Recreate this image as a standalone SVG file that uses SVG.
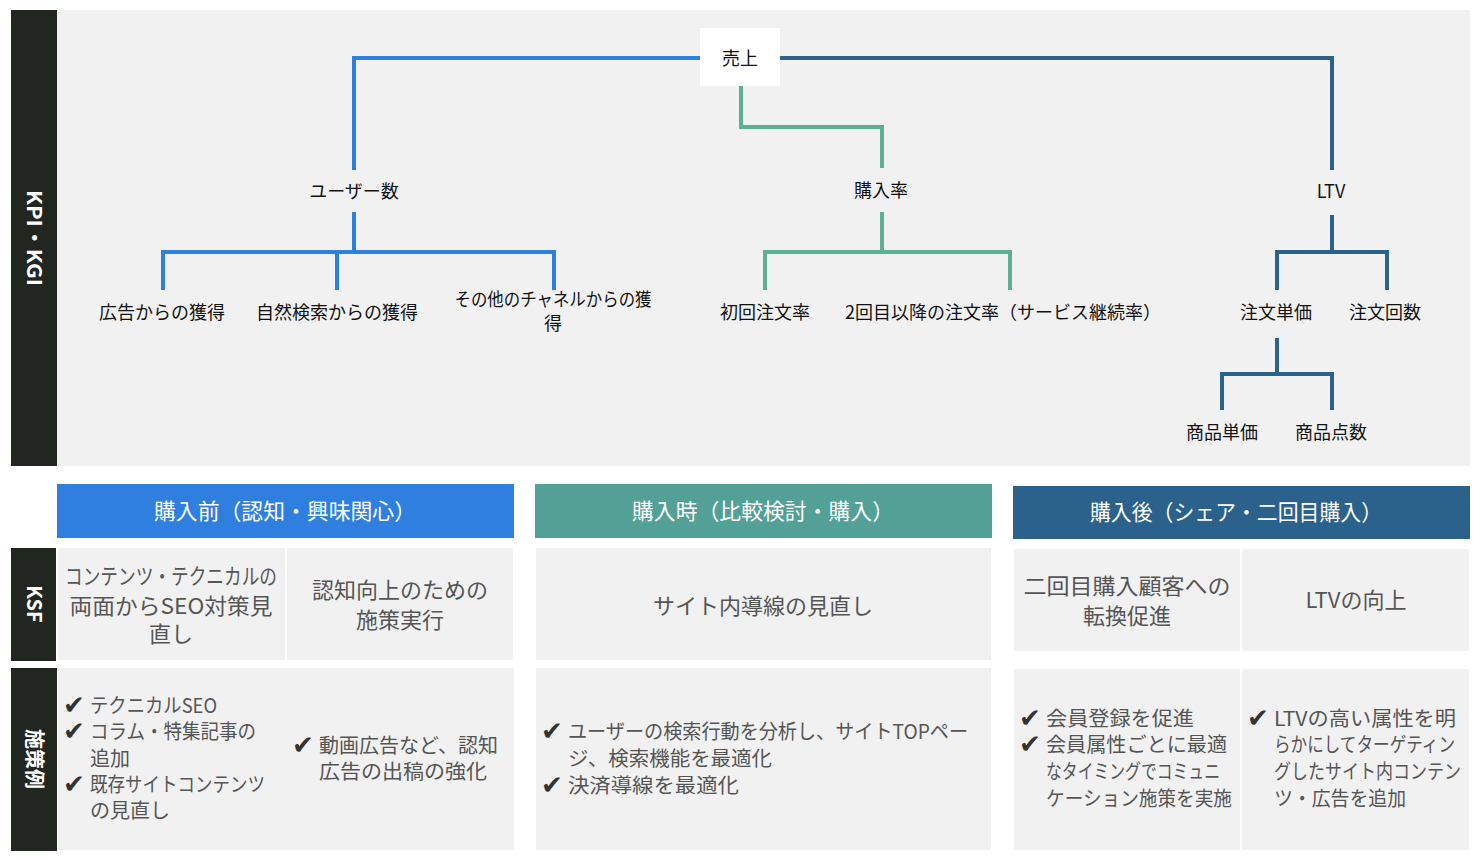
<svg xmlns="http://www.w3.org/2000/svg" width="1480" height="860" viewBox="0 0 1480 860">
<style>
text{font-family:"Noto Sans CJK JP","Noto Sans",sans-serif}
.t{font-size:18px;fill:#111;text-anchor:middle}
.side{font-size:20px;fill:#fff;text-anchor:middle;font-weight:bold}
.hd{font-size:22px;fill:#fff;text-anchor:middle}
.cell{fill:#f1f1f1}
.k{font-size:22px;fill:#555;text-anchor:middle}
.s{font-size:20px;fill:#555}
.ck{font-size:26px;fill:#333;font-family:"DejaVu Sans",sans-serif}
.b{stroke:#2F7FDE;stroke-width:4;fill:none}
.g{stroke:#5BB096;stroke-width:4;fill:none}
.d{stroke:#2B628C;stroke-width:4;fill:none}
</style>
<rect width="1480" height="860" fill="#fff"/>
<g id="kpi-panel">
<rect x="57" y="10" width="1413" height="456" fill="#f1f1f1"/>
<rect x="11" y="10" width="46" height="456" fill="#212621"/>
<text class="side" transform="translate(27,238) rotate(90)" textLength="96" lengthAdjust="spacingAndGlyphs">KPI・KGI</text>
</g>
<g id="connectors">
<path class="b" d="M700,58H354V170"/>
<path class="d" d="M780,58H1332V170"/>
<path class="g" d="M741,86V127H882V168"/>
<path class="b" d="M354,212V252M163,290V252H554V290M337,252V290"/>
<path class="g" d="M882,212V250M765,290V252H1010V290"/>
<path class="d" d="M1332,215V252M1277,290V252H1387V290"/>
<path class="d" d="M1277,338V374M1222,410V374H1332V410"/>
</g>
<g id="n-uriage"><rect x="700" y="28" width="80" height="58" fill="#fff"/><text class="t" x="740" y="65" font-size="21">売上</text></g>
<g id="n-users"><text class="t" x="354" y="198">ユーザー数</text></g>
<g id="n-cvr"><text class="t" x="881" y="197">購入率</text></g>
<g id="n-ltv"><text class="t" x="1331" y="198">LTV</text></g>
<g id="n-ad"><text class="t" x="162" y="319">広告からの獲得</text></g>
<g id="n-organic"><text class="t" x="337" y="319">自然検索からの獲得</text></g>
<g id="n-other"><text class="t" x="553" y="306" textLength="197" lengthAdjust="spacingAndGlyphs">その他のチャネルからの獲</text><text class="t" x="553" y="330">得</text></g>
<g id="n-first"><text class="t" x="765" y="319">初回注文率</text></g>
<g id="n-repeat"><text class="t" x="1003" y="319">2回目以降の注文率（サービス継続率）</text></g>
<g id="n-aov"><text class="t" x="1276" y="319">注文単価</text></g>
<g id="n-freq"><text class="t" x="1385" y="319">注文回数</text></g>
<g id="n-price"><text class="t" x="1222" y="439">商品単価</text></g>
<g id="n-qty"><text class="t" x="1331" y="439">商品点数</text></g>
<g id="headers">
<rect x="57" y="484" width="457" height="54" fill="#2F7FDE"/><text class="hd" x="285" y="519" textLength="262" lengthAdjust="spacingAndGlyphs">購入前（認知・興味関心）</text>
<rect x="535" y="484" width="457" height="54" fill="#52A096"/><text class="hd" x="763" y="519" textLength="262" lengthAdjust="spacingAndGlyphs">購入時（比較検討・購入）</text>
<rect x="1013" y="486" width="457" height="53" fill="#2B628C"/><text class="hd" x="1236" y="520" textLength="292" lengthAdjust="spacingAndGlyphs">購入後（シェア・二回目購入）</text>
</g>
<g id="ksf">
<rect x="11" y="548" width="45" height="113" fill="#212621"/>
<text class="side" transform="translate(27,604) rotate(90)">KSF</text>
<rect class="cell" x="58" y="548" width="227" height="112"/>
<rect class="cell" x="287" y="548" width="226" height="112"/>
<rect class="cell" x="536" y="548" width="455" height="112"/>
<rect class="cell" x="1014" y="549" width="226" height="102"/>
<rect class="cell" x="1242" y="549" width="227" height="102"/>
<text class="k" x="171" y="584" textLength="212" lengthAdjust="spacingAndGlyphs">コンテンツ・テクニカルの</text>
<text class="k" x="171" y="614" textLength="203" lengthAdjust="spacingAndGlyphs">両面からSEO対策見</text>
<text class="k" x="171" y="642">直し</text>
<text class="k" x="400" y="598">認知向上のための</text>
<text class="k" x="400" y="628">施策実行</text>
<text class="k" x="763" y="614">サイト内導線の見直し</text>
<text class="k" x="1127" y="594" textLength="207" lengthAdjust="spacingAndGlyphs">二回目購入顧客への</text>
<text class="k" x="1127" y="624">転換促進</text>
<text class="k" x="1356" y="608">LTVの向上</text>
</g>
<g id="examples">
<rect x="11" y="668" width="46" height="183" fill="#212621"/>
<text class="side" transform="translate(27,759) rotate(90)">施策例</text>
<rect class="cell" x="58" y="668" width="456" height="182"/>
<rect class="cell" x="536" y="668" width="455" height="182"/>
<rect class="cell" x="1014" y="669" width="226" height="181"/>
<rect class="cell" x="1242" y="669" width="227" height="181"/>
<text class="ck" x="63" y="714">✔</text><text class="s" x="90" y="713" textLength="127" lengthAdjust="spacingAndGlyphs">テクニカルSEO</text>
<text class="ck" x="63" y="740">✔</text><text class="s" x="90" y="739" textLength="166" lengthAdjust="spacingAndGlyphs">コラム・特集記事の</text>
<text class="s" x="90" y="766">追加</text>
<text class="ck" x="63" y="793">✔</text><text class="s" x="90" y="792" textLength="175" lengthAdjust="spacingAndGlyphs">既存サイトコンテンツ</text>
<text class="s" x="90" y="818">の見直し</text>
<text class="ck" x="292" y="754">✔</text><text class="s" x="319" y="753" textLength="179" lengthAdjust="spacingAndGlyphs">動画広告など、認知</text>
<text class="s" x="319" y="779" textLength="168" lengthAdjust="spacingAndGlyphs">広告の出稿の強化</text>
<text class="ck" x="541" y="740">✔</text><text class="s" x="568" y="739" textLength="400" lengthAdjust="spacingAndGlyphs">ユーザーの検索行動を分析し、サイトTOPペー</text>
<text class="s" x="568" y="766" textLength="204" lengthAdjust="spacingAndGlyphs">ジ、検索機能を最適化</text>
<text class="ck" x="541" y="794">✔</text><text class="s" x="568" y="793" textLength="171" lengthAdjust="spacingAndGlyphs">決済導線を最適化</text>
<text class="ck" x="1019" y="727">✔</text><text class="s" x="1046" y="726" textLength="148" lengthAdjust="spacingAndGlyphs">会員登録を促進</text>
<text class="ck" x="1019" y="753">✔</text><text class="s" x="1046" y="752" textLength="181" lengthAdjust="spacingAndGlyphs">会員属性ごとに最適</text>
<text class="s" x="1046" y="779" textLength="174" lengthAdjust="spacingAndGlyphs">なタイミングでコミュニ</text>
<text class="s" x="1046" y="806" textLength="186" lengthAdjust="spacingAndGlyphs">ケーション施策を実施</text>
<text class="ck" x="1247" y="727">✔</text><text class="s" x="1274" y="726" textLength="182" lengthAdjust="spacingAndGlyphs">LTVの高い属性を明</text>
<text class="s" x="1274" y="752" textLength="181" lengthAdjust="spacingAndGlyphs">らかにしてターゲティン</text>
<text class="s" x="1274" y="779" textLength="187" lengthAdjust="spacingAndGlyphs">グしたサイト内コンテン</text>
<text class="s" x="1274" y="806" textLength="132" lengthAdjust="spacingAndGlyphs">ツ・広告を追加</text>
</g>
</svg>
